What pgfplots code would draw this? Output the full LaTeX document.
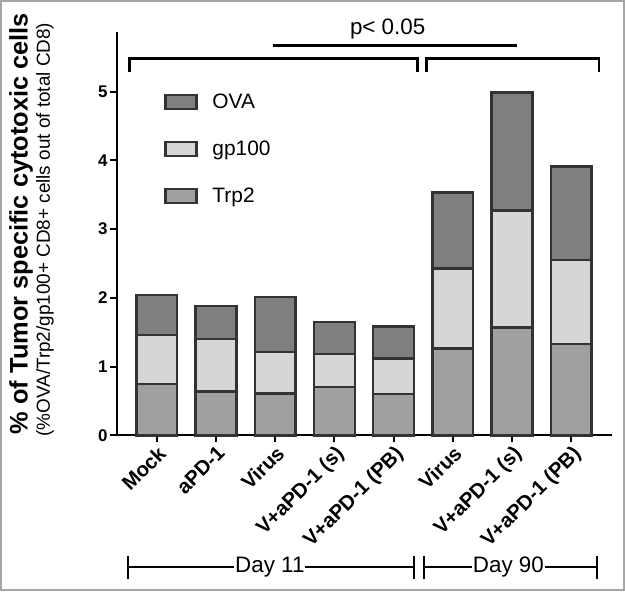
\documentclass[border=0pt]{standalone}
\usepackage{fontspec}
\setmainfont{Liberation Sans}
\usepackage{pgfplots}
\pgfplotsset{compat=1.18}
\definecolor{ova}{HTML}{7F7F7F}
\definecolor{gp}{HTML}{D6D6D6}
\definecolor{trp}{HTML}{A0A0A3}
\definecolor{edge}{HTML}{333333}
\pgfplotsset{legbox/.style={legend image code/.code={\draw[fill=#1,draw=edge,line width=2.5bp] (0bp,-7bp) rectangle (31bp,7bp);}}}

\begin{document}
\begin{tikzpicture}
\begin{axis}[
  scale only axis,width=496bp,height=404bp,
  xmin=-0.675,xmax=7.69,ymin=0,ymax=5.87,
  ybar stacked,bar width=0.69,
  axis x line=bottom,axis y line=left,
  axis line style={-,line width=2bp,black},
  xtick={0,...,7},
  xticklabels={Mock,aPD-1,Virus,V+aPD-1 (s),V+aPD-1 (PB),Virus,V+aPD-1 (s),V+aPD-1 (PB)},
  ytick={0,...,5},
  tick align=outside,major tick length=7bp,
  tick style={line width=2bp,black},
  x tick label style={rotate=45,anchor=north east,font=\bfseries\fontsize{20.5}{20.5}\selectfont,inner sep=1.5bp},
  y tick label style={font=\bfseries\fontsize{17}{17}\selectfont,inner sep=2bp},
  /pgf/number format/assume math mode=true,
  clip=false,
  reverse legend,
  legend cell align=left,
  legend style={draw=none,fill=none,at={(rel axis cs:0.095,0.852)},anchor=north west,
    font=\fontsize{21}{21}\selectfont,row sep=27bp,inner sep=0pt,
    /tikz/every odd column/.append style={column sep=13bp}},
]
\addplot[fill=trp,draw=edge,line width=2.5bp,legbox=trp] coordinates {(0,0.75)(1,0.64)(2,0.61)(3,0.70)(4,0.60)(5,1.26)(6,1.57)(7,1.33)};
\addlegendentry{Trp2}
\addplot[fill=gp,draw=edge,line width=2.5bp,legbox=gp] coordinates {(0,0.71)(1,0.76)(2,0.60)(3,0.48)(4,0.52)(5,1.17)(6,1.70)(7,1.22)};
\addlegendentry{gp100}
\addplot[fill=ova,draw=edge,line width=2.5bp,legbox=ova] coordinates {(0,0.58)(1,0.48)(2,0.80)(3,0.47)(4,0.46)(5,1.10)(6,1.72)(7,1.36)};
\addlegendentry{OVA}
\draw[line width=3bp] (axis cs:-0.455,5.28) |- (axis cs:4.40,5.49) -- (axis cs:4.40,5.28);
\draw[line width=3bp] (axis cs:4.55,5.28) |- (axis cs:7.47,5.49) -- (axis cs:7.47,5.28);
\draw[line width=3bp] (axis cs:1.97,5.67) -- (axis cs:6.09,5.67);
\coordinate (pt) at (axis cs:3.9,5.91);
\draw[line width=2bp] (axis cs:-0.49,-1.92) -- (axis cs:4.35,-1.92);
\draw[line width=2bp] (axis cs:4.52,-1.92) -- (axis cs:7.44,-1.92);
\draw[line width=2bp] (axis cs:-0.49,-1.75) -- (axis cs:-0.49,-2.09);
\draw[line width=2bp] (axis cs:4.35,-1.75) -- (axis cs:4.35,-2.09);
\draw[line width=2bp] (axis cs:4.52,-1.75) -- (axis cs:4.52,-2.09);
\draw[line width=2bp] (axis cs:7.44,-1.75) -- (axis cs:7.44,-2.09);
\coordinate (d11) at (axis cs:1.91,-1.92);
\coordinate (d90) at (axis cs:5.94,-1.92);
\end{axis}
\node[font=\fontsize{22.5}{22.5}\selectfont] at (pt) {p< 0.05};
\node[fill=white,inner sep=1bp,font=\fontsize{22.5}{22.5}\selectfont] at (d11) {Day 11};
\node[fill=white,inner sep=1bp,font=\fontsize{22.5}{22.5}\selectfont] at (d90) {Day 90};
\node[rotate=90,font=\bfseries\fontsize{25.5}{25.5}\selectfont] at (-96bp,212bp) {\% of Tumor specific cytotoxic cells};
\node[rotate=90,font=\fontsize{19}{19}\selectfont] at (-72bp,206bp) {(\%OVA/Trp2/gp100+ CD8+ cells out of total CD8)};
\draw[gray!70,line width=2bp] (-116bp,-155bp) rectangle (508bp,435bp);
\end{tikzpicture}
\end{document}
